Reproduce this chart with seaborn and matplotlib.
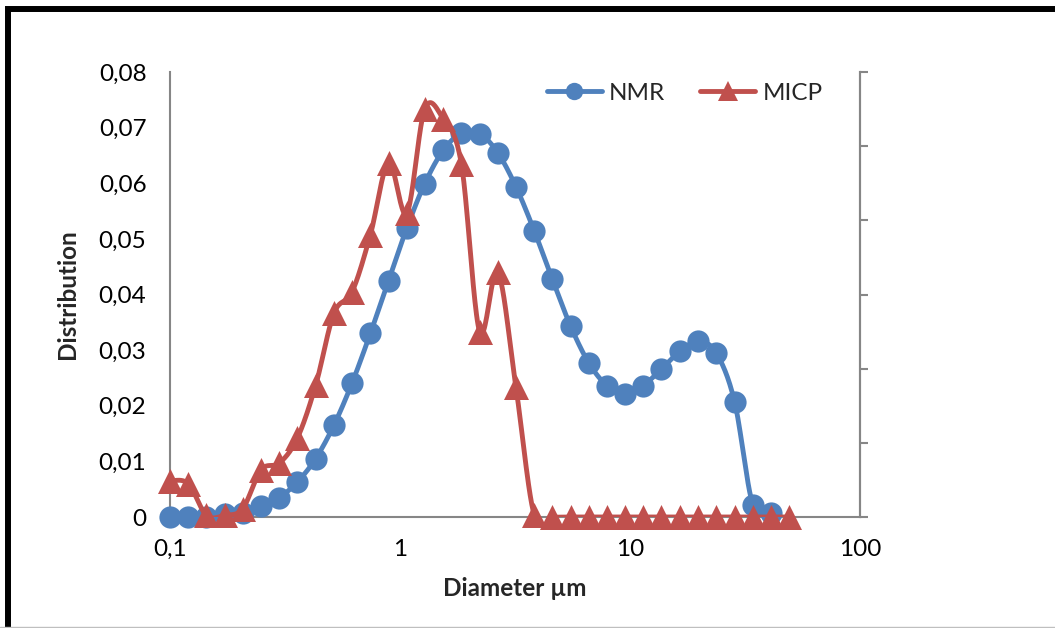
import numpy as np
import pandas as pd
import seaborn as sns
import matplotlib
matplotlib.use('Agg')
import matplotlib.pyplot as plt
from matplotlib.lines import Line2D
from matplotlib.patches import Rectangle

# values
diam_nmr = [0.1, 0.12, 0.144, 0.173, 0.207, 0.249, 0.299, 0.358, 0.43, 0.516,
            0.619, 0.743, 0.892, 1.07, 1.28, 1.54, 1.85, 2.22, 2.66, 3.19,
            3.83, 4.6, 5.52, 6.62, 7.95, 9.54, 11.4, 13.7, 16.5, 19.8,
            23.7, 28.5, 34.2, 41.0]
nmr = [0, 0, 0, 0.0005, 0.0007, 0.0019, 0.0035, 0.0063, 0.0105, 0.0165,
       0.0241, 0.033, 0.0425, 0.0519, 0.0599, 0.0659, 0.069, 0.0689, 0.0655, 0.0594,
       0.0515, 0.0427, 0.0343, 0.0277, 0.0236, 0.0222, 0.0236, 0.0266, 0.0298, 0.0316,
       0.0295, 0.0207, 0.0022, 0.0007]

diam_micp = diam_nmr + [49.2]
micp = [0.0065, 0.006, 0.0003, 0.0003, 0.0015, 0.0085, 0.0097, 0.0142, 0.0237, 0.0366,
        0.0405, 0.0507, 0.0637, 0.0546, 0.0733, 0.0716, 0.0634, 0.0333, 0.0441, 0.0234,
        0.0004, 0, 0, 0, 0, 0, 0, 0, 0, 0,
        0, 0, 0, 0, 0]

x_ticks = [0.1, 1, 10, 100]
x_tick_labels = ['0,1', '1', '10', '100']
y_ticks = [0, 0.01, 0.02, 0.03, 0.04, 0.05, 0.06, 0.07, 0.08]

BLUE = '#4F81BD'
RED = '#C0504D'
GREY = '#868686'


def smooth(xs, ys, n=24):
    # Excel-style smoothed line (Catmull-Rom bezier), done in screen-like units
    u = np.log10(np.asarray(xs, float)) * 230.0
    v = np.asarray(ys, float) * 5563.0
    p = np.column_stack([u, v])
    p = np.vstack([p[0], p, p[-1]])
    out = []
    t = np.linspace(0, 1, n)[:, None]
    for i in range(1, len(p) - 2):
        p0, p1, p2, p3 = p[i - 1], p[i], p[i + 1], p[i + 2]
        c1 = p1 + (p2 - p0) / 6.0
        c2 = p2 - (p3 - p1) / 6.0
        seg = ((1 - t) ** 3) * p1 + 3 * ((1 - t) ** 2) * t * c1 + 3 * (1 - t) * t ** 2 * c2 + t ** 3 * p2
        out.append(seg if i == 1 else seg[1:])
    out = np.vstack(out)
    return pd.DataFrame({'x': 10 ** (out[:, 0] / 230.0), 'y': out[:, 1] / 5563.0})


sns.set_style('white')
plt.rcParams['font.family'] = ['Lato', 'DejaVu Sans']

fig = plt.figure(figsize=(10.55, 6.28), dpi=100)
ax = fig.add_axes([170 / 1055, 1 - 517 / 628, 690 / 1055, 445 / 628])

df_nmr = pd.DataFrame({'x': diam_nmr, 'y': nmr})
df_micp = pd.DataFrame({'x': diam_micp, 'y': micp})

sns.lineplot(data=smooth(diam_nmr, nmr), x='x', y='y', sort=False, estimator=None,
             color=BLUE, lw=3.5, ax=ax, zorder=3)
sns.scatterplot(data=df_nmr, x='x', y='y', marker='o', s=16 ** 2, color=BLUE,
                edgecolor=BLUE, linewidth=0, ax=ax, zorder=4, clip_on=False)
sns.lineplot(data=smooth(diam_micp, micp), x='x', y='y', sort=False, estimator=None,
             color=RED, lw=3.5, ax=ax, zorder=5)
sns.scatterplot(data=df_micp, x='x', y='y', marker='^', s=18 ** 2, color=RED,
                edgecolor=RED, linewidth=0, ax=ax, zorder=6, clip_on=False)

ax.set_xscale('log')
ax.set_xlim(0.1, 100)
ax.set_ylim(0, 0.08)
ax.set_xticks(x_ticks)
ax.set_xticklabels(x_tick_labels)
ax.xaxis.set_minor_locator(matplotlib.ticker.NullLocator())
ax.set_yticks(y_ticks)
ax.set_yticklabels(['0'] + [f'{v:.2f}'.replace('.', ',') for v in y_ticks[1:]])
ax.tick_params(axis='both', length=0, labelsize=17.5, colors='black')
ax.tick_params(axis='y', pad=17)
ax.tick_params(axis='x', pad=16)

ax.set_xlabel('Diameter µm', fontsize=17.5, fontweight='bold', labelpad=12)
ax.set_ylabel('Distribution', fontsize=17.5, fontweight='bold', labelpad=14)

for side in ['left', 'bottom', 'right']:
    ax.spines[side].set_color(GREY)
    ax.spines[side].set_linewidth(1.5)
ax.spines['top'].set_visible(False)

# secondary axis: ticks only, no labels
ax2 = ax.twinx()
ax2.set_ylim(0, 6)
ax2.set_yticks(range(7))
ax2.set_yticklabels([])
ax2.tick_params(axis='y', direction='out', length=6, width=1.5, color=GREY)
for side in ['left', 'bottom', 'top']:
    ax2.spines[side].set_visible(False)
ax2.spines['right'].set_color(GREY)
ax2.spines['right'].set_linewidth(1.5)
ax2.grid(False)

handles = [
    Line2D([], [], color=BLUE, lw=3.5, marker='o', markersize=12.5, markeredgewidth=0),
    Line2D([], [], color=RED, lw=3.5, marker='^', markersize=14, markeredgewidth=0),
]
fig.legend(handles, ['NMR', 'MICP'], ncol=2, frameon=False, fontsize=17.5,
           loc='center left', bbox_to_anchor=(547 / 1055, 1 - 93 / 628),
           borderpad=0, borderaxespad=0, handlelength=2.25, handletextpad=0.3,
           columnspacing=1.45)

# chart border (black on left/top, cut off at right/bottom)
fig.add_artist(Rectangle((8 / 1055, -0.05), 1.1, 1 - 8.5 / 628 + 0.05,
                         transform=fig.transFigure, fill=False, ec='black', lw=4.3))
fig.add_artist(Line2D([0, 1], [0.8 / 628, 0.8 / 628], transform=fig.transFigure,
                      color='#BFBFBF', lw=1))

fig.savefig('out.png', dpi=100)
